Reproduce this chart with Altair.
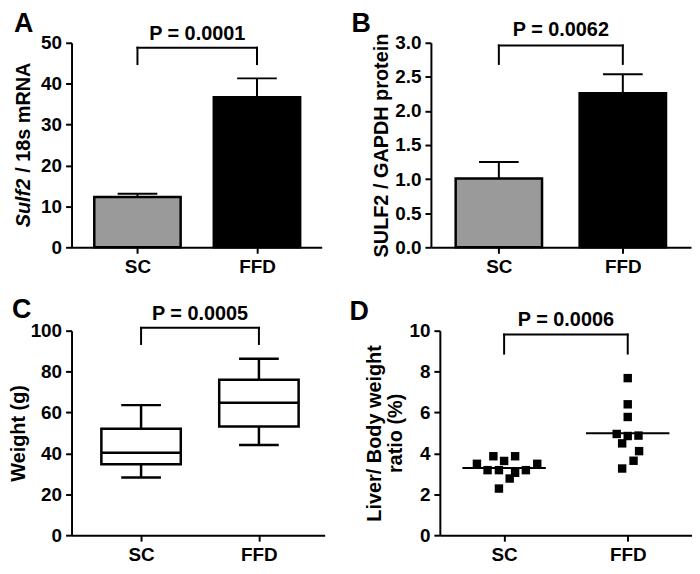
import altair as alt
import pandas as pd

# ---------------- data ----------------
categories = ["SC", "FFD"]
panel_letters = ["A", "B", "C", "D"]
p_labels = ["P = 0.0001", "P = 0.0062", "P = 0.0005", "P = 0.0006"]

# A: Sulf2 / 18s mRNA (mean, top of error bar)
mrna_mean = [12.3, 36.7]
mrna_err_top = [13.1, 41.3]

# B: SULF2 / GAPDH protein
protein_mean = [1.01, 2.26]
protein_err_top = [1.25, 2.54]

# C: body weight box plot
weight_min = [28.2, 44.1]
weight_q1 = [34.7, 53.1]
weight_median = [40.3, 64.8]
weight_q3 = [52.0, 76.0]
weight_max = [63.6, 86.3]

# D: liver / body weight ratio (%) individual animals
ratio_sc = [3.49, 3.86, 3.18, 3.18, 3.63, 3.86, 3.05, 2.77, 3.18, 3.49, 2.28]
ratio_sc_jitter = [-0.22, -0.087, -0.134, -0.042, 0.0, 0.089, 0.089, 0.045, 0.176, 0.268, -0.042]
ratio_ffd = [7.68, 6.40, 5.78, 4.95, 4.85, 4.87, 4.49, 4.11, 3.64, 3.26]
ratio_ffd_jitter = [0.0, 0.0, 0.0, -0.089, 0.0, 0.087, -0.045, 0.092, 0.047, -0.045]
ratio_median = [3.29, 4.99]

# significance brackets: [bracket top, leg end]
bracket_a = [48.8, 44.8]
bracket_b = [2.96, 2.69]
bracket_c = [101.4, 93.5]
bracket_d = [9.81, 8.88]

y_ticks_a = [0, 10, 20, 30, 40, 50]
y_ticks_b = [0, 0.5, 1.0, 1.5, 2.0, 2.5, 3.0]
y_ticks_c = [0, 20, 40, 60, 80, 100]
y_ticks_d = [0, 2, 4, 6, 8, 10]

# ---------------- helpers ----------------
FONT = "Liberation Sans"
cat_pos = [0, 1]
label_expr = "datum.value == 0 ? '%s' : '%s'" % (categories[0], categories[1])


def xenc(field, dom):
    return alt.X(f"{field}:Q",
                 scale=alt.Scale(domain=dom, nice=False, zero=False),
                 axis=alt.Axis(values=cat_pos, labelExpr=label_expr, title=None))


def yenc(field, ticks, title, fmt, tpad):
    return alt.Y(f"{field}:Q",
                 scale=alt.Scale(domain=[ticks[0], ticks[-1]], nice=False, zero=True),
                 axis=alt.Axis(values=ticks, format=fmt, title=title, titlePadding=tpad),
                 stack=None)


def annotations(idx, bracket, xdom, yargs, p_y, lx, ly):
    br = pd.DataFrame({"x0": [0], "x1": [1], "top": [bracket[0]]})
    horiz = alt.Chart(br).mark_rule(color="black", strokeWidth=2, strokeCap="square").encode(
        x=xenc("x0", xdom), x2="x1:Q", y=yenc("top", *yargs))
    legs_df = pd.DataFrame({"pos": cat_pos, "top": [bracket[0], bracket[0]],
                            "bot": [bracket[1], bracket[1]]})
    legs = alt.Chart(legs_df).mark_rule(color="black", strokeWidth=2, strokeCap="square").encode(
        x=xenc("pos", xdom), y=yenc("top", *yargs), y2="bot:Q")
    ptxt = alt.Chart(pd.DataFrame({"pos": [0.5], "label": [p_labels[idx]]})).mark_text(
        font=FONT, fontSize=20, fontWeight="bold", baseline="alphabetic", align="center",
        color="black").encode(x=xenc("pos", xdom), y=alt.value(p_y), text="label:N")
    letter = alt.Chart(pd.DataFrame({"label": [panel_letters[idx]]})).mark_text(
        font=FONT, fontSize=27, fontWeight="bold", baseline="top", align="left",
        color="black").encode(x=alt.value(lx), y=alt.value(ly), text="label:N")
    return [horiz, legs, ptxt, letter]


def bar_panel(idx, means, tops, yargs, xdom, width, height, bracket, p_y, lx, ly):
    df = pd.DataFrame({"cat": categories, "pos": cat_pos, "mean": means, "top": tops})
    err = alt.Chart(df).mark_rule(color="black", strokeWidth=2).encode(
        x=xenc("pos", xdom), y=yenc("mean", *yargs), y2="top:Q")
    cap = alt.Chart(df).mark_tick(orient="horizontal", size=40, thickness=2, color="black",
                                  opacity=1).encode(x=xenc("pos", xdom), y=yenc("top", *yargs))
    bars = alt.Chart(df).mark_bar(size=87, stroke="black", strokeWidth=2.5, opacity=1).encode(
        x=xenc("pos", xdom), y=yenc("mean", *yargs),
        color=alt.Color("cat:N", scale=alt.Scale(domain=categories, range=["#9a9a9a", "#000000"]),
                        legend=None))
    layers = [err, cap, bars] + annotations(idx, bracket, xdom, yargs, p_y, lx, ly)
    return alt.layer(*layers).properties(width=width, height=height)


W_A, W_B, W_C, W_D = 252, 262, 255, 254
H = 206

# ---- Panel A ----
xdom_a = [-0.51, 1.5]
panel_a = bar_panel(0, mrna_mean, mrna_err_top, (y_ticks_a, None, "d", 4), xdom_a, W_A, H,
                    bracket_a, -3, -58, -32)
junction = H / 2 + 34
title_italic = alt.Chart(pd.DataFrame({"t": ["Sulf2"]})).mark_text(
    font=FONT, fontSize=20, fontWeight="bold", fontStyle="italic", angle=270,
    align="right", baseline="top", color="black").encode(
    x=alt.value(-58), y=alt.value(junction), text="t:N")
title_rest = alt.Chart(pd.DataFrame({"t": ["/ 18s mRNA"]})).mark_text(
    font=FONT, fontSize=20, fontWeight="bold", angle=270,
    align="left", baseline="top", color="black").encode(
    x=alt.value(-58), y=alt.value(junction - 6), text="t:N")
panel_a = alt.layer(panel_a, title_italic, title_rest)

# ---- Panel B ----
xdom_b = [-0.508, 1.51]
panel_b = bar_panel(1, protein_mean, protein_err_top, (y_ticks_b, "SULF2 / GAPDH protein", ".1f", 3),
                    xdom_b, W_B, H, bracket_b, -7, -80, -32)

# ---- Panel C ----
xdom_c = [-0.548, 1.516]
yargs_c = (y_ticks_c, "Weight (g)", "d", 2)
df_c = pd.DataFrame({"pos": cat_pos, "lo": weight_min, "q1": weight_q1, "med": weight_median,
                     "q3": weight_q3, "hi": weight_max})
whisk = alt.Chart(df_c).mark_rule(color="black", strokeWidth=2.5).encode(
    x=xenc("pos", xdom_c), y=yenc("lo", *yargs_c), y2="hi:Q")
box = alt.Chart(df_c).mark_bar(size=80, fill="white", stroke="black", strokeWidth=2.5,
                               opacity=1).encode(
    x=xenc("pos", xdom_c), y=yenc("q1", *yargs_c), y2="q3:Q")
med_c = alt.Chart(df_c).mark_tick(orient="horizontal", size=80, thickness=2.5, color="black",
                                  opacity=1).encode(x=xenc("pos", xdom_c), y=yenc("med", *yargs_c))
cap_lo = alt.Chart(df_c).mark_tick(orient="horizontal", size=40, thickness=2.5, color="black",
                                   opacity=1).encode(x=xenc("pos", xdom_c), y=yenc("lo", *yargs_c))
cap_hi = alt.Chart(df_c).mark_tick(orient="horizontal", size=40, thickness=2.5, color="black",
                                   opacity=1).encode(x=xenc("pos", xdom_c), y=yenc("hi", *yargs_c))
panel_c = alt.layer(whisk, box, med_c, cap_lo, cap_hi,
                    *annotations(2, bracket_c, xdom_c, yargs_c, -11, -60, -34)).properties(
    width=W_C, height=H)

# ---- Panel D ----
xdom_d = [-0.52, 1.52]
yargs_d = (y_ticks_d, ["Liver/ Body weight", "ratio (%)"], "d", 3)
df_pts = pd.DataFrame({
    "pos": [cat_pos[0] + j for j in ratio_sc_jitter] + [cat_pos[1] + j for j in ratio_ffd_jitter],
    "ratio": ratio_sc + ratio_ffd,
})
df_med = pd.DataFrame({"pos": cat_pos, "ratio": ratio_median})
pts = alt.Chart(df_pts).mark_square(size=72, color="black", opacity=1).encode(
    x=xenc("pos", xdom_d), y=yenc("ratio", *yargs_d))
med_d = alt.Chart(df_med).mark_tick(orient="horizontal", size=84, thickness=2, color="black",
                                    opacity=1).encode(x=xenc("pos", xdom_d), y=yenc("ratio", *yargs_d))
panel_d = alt.layer(med_d, pts,
                    *annotations(3, bracket_d, xdom_d, yargs_d, -5, -91, -32)).properties(
    width=W_D, height=H)

top = alt.hconcat(panel_a, panel_b, spacing=110, bounds="flush")
bottom = alt.hconcat(panel_c, panel_d, spacing=116, bounds="flush")

chart = alt.vconcat(top, bottom, spacing=20).properties(
    padding=0, background="white"
).configure_view(stroke=None).configure_axis(
    grid=False,
    domainColor="black", domainWidth=2,
    tickColor="black", tickWidth=2, tickSize=6,
    labelFont=FONT, labelFontSize=19, labelFontWeight="bold", labelColor="black", labelPadding=4,
    titleFont=FONT, titleFontSize=20, titleFontWeight="bold", titleColor="black",
    titleLineHeight=22,
)

chart.save("out.html", embed_options={"renderer": "svg", "actions": False})
